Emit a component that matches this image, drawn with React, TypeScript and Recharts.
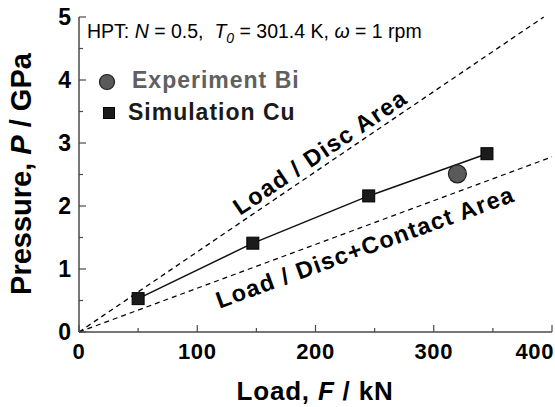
import { Scatter, ScatterChart, XAxis, YAxis } from "recharts";

// Simulation Cu (squares joined by a solid line)
const simLoad = [50, 147, 245, 345];
const simPressure = [0.53, 1.41, 2.16, 2.83];

// Experiment Bi (single circle)
const expLoad = [320];
const expPressure = [2.51];

// Guide lines through the origin
const discLoad = [0, 393];
const discPressure = [0, 5];
const contactLoad = [0, 400];
const contactPressure = [0, 2.78];

const xTicks = [0, 50, 100, 150, 200, 250, 300, 350, 400];
const xMajor = [0, 100, 200, 300, 400];
const yTicks = [0, 0.5, 1, 1.5, 2, 2.5, 3, 3.5, 4, 4.5, 5];
const yMajor = [0, 1, 2, 3, 4, 5];

const W = 555;
const H = 407;
const FONT = "'Liberation Sans', Arial, sans-serif";
const AXIS = "#4a4a4a";

const toPoints = (xs: number[], ys: number[]) => xs.map((x, i) => ({ x, y: ys[i] }));

const simData = toPoints(simLoad, simPressure);
const expData = toPoints(expLoad, expPressure);
const discData = toPoints(discLoad, discPressure);
const contactData = toPoints(contactLoad, contactPressure);

type Side = "left" | "right" | "top" | "bottom";

// tickSize and tickMargin are 0, so x / y arrive sitting on the axis line
function makeTick(side: Side, majors: number[], labels: boolean) {
  return (props: any) => {
    const { x, y, payload } = props;
    const v = payload.value as number;
    const major = majors.includes(v);
    const len = major ? 7 : 4;
    let line;
    if (side === "left") line = <line x1={x} x2={x + len} y1={y} y2={y} />;
    else if (side === "right") line = <line x1={x} x2={x - len} y1={y} y2={y} />;
    else if (side === "bottom") line = <line x1={x} x2={x} y1={y} y2={y - len} />;
    else line = <line x1={x} x2={x} y1={y} y2={y + len} />;

    // the last x label is pulled in so it stays inside the picture
    const last = side === "bottom" && v === xTicks[xTicks.length - 1];

    return (
      <g stroke={AXIS} strokeWidth={1.2}>
        {line}
        {labels && major && side === "left" && (
          <text x={x - 8} y={y} dy="0.36em" textAnchor="end" stroke="none" fill="#000"
            fontFamily={FONT} fontWeight="bold" fontSize={23}>
            {v}
          </text>
        )}
        {labels && major && side === "bottom" && (
          <text x={last ? x + 2 : x} y={y + 11} dy="0.71em" textAnchor={last ? "end" : "middle"} stroke="none"
            fill="#000" fontFamily={FONT} fontWeight="bold" fontSize={22} letterSpacing={0.6}>
            {v}
          </text>
        )}
      </g>
    );
  };
}

const noMarker = () => <g />;

const square = (p: any) => (
  <rect x={p.cx - 6} y={p.cy - 6} width={12} height={12} fill="#1b1b1b" stroke="#000" strokeWidth={1} />
);

const circle = (p: any) => <circle cx={p.cx} cy={p.cy} r={9} fill="#5a5a5a" stroke="#1e1e1e" strokeWidth={1.2} />;

function Overlay() {
  const bold = { fontFamily: FONT, fontWeight: "bold" as const };
  return (
    <svg width={W} height={H} style={{ position: "absolute", left: 0, top: 0, pointerEvents: "none" }}>
      <text x={87} y={38} fontFamily={FONT} fontSize={19.5} fill="#000">
        HPT: <tspan fontStyle="italic">N</tspan> = 0.5,{"\u00a0\u00a0"}
        <tspan fontStyle="italic">T</tspan>
        <tspan fontStyle="italic" fontSize={14} dy={5}>0</tspan>
        <tspan dy={-5}> = 301.4 K, </tspan>
        <tspan fontStyle="italic">ω</tspan> = 1 rpm
      </text>

      <circle cx={107} cy={82} r={7.5} fill="#5a5a5a" stroke="#1e1e1e" strokeWidth={1.2} />
      <text x={132} y={88} {...bold} fontSize={23} letterSpacing={1} fill="#606060">
        Experiment Bi
      </text>
      <rect x={103.5} y={107.5} width={11} height={11} fill="#1b1b1b" stroke="#000" />
      <text x={128} y={120} {...bold} fontSize={23} letterSpacing={1} fill="#1a1a1a">
        Simulation Cu
      </text>

      <text transform="translate(320 152) rotate(-34)" textAnchor="middle" dy="0.35em" {...bold}
        fontSize={23.5} letterSpacing={1.3} fill="#000">
        Load / Disc Area
      </text>
      <text transform="translate(365 247) rotate(-20)" textAnchor="middle" dy="0.35em" {...bold}
        fontSize={23.5} letterSpacing={1.3} fill="#000">
        Load / Disc+Contact Area
      </text>

      <text x={315} y={400} textAnchor="middle" {...bold} fontSize={26} letterSpacing={0.8} fill="#000">
        Load, <tspan fontStyle="italic">F</tspan> / kN
      </text>
      <text transform="translate(31 174) rotate(-90)" textAnchor="middle" {...bold} fontSize={29} fill="#000">
        Pressure, <tspan fontStyle="italic">P</tspan> / GPa
      </text>
    </svg>
  );
}

export default function App() {
  return (
    <div style={{ position: "absolute", left: 0, top: 0, width: W, height: H, background: "#fff" }}>
      <ScatterChart width={W} height={H} margin={{ top: 17, right: 3, bottom: 0, left: 0 }}>
        <XAxis xAxisId="bottom" dataKey="x" type="number" domain={[0, 400]} ticks={xTicks} interval={0}
          height={75} tickSize={0} tickMargin={0} tickLine={false}
          axisLine={{ stroke: AXIS, strokeWidth: 1.5 }} tick={makeTick("bottom", xMajor, true)} />
        <XAxis xAxisId="top" orientation="top" dataKey="x" type="number" domain={[0, 400]} ticks={xTicks}
          interval={0} height={0} tickSize={0} tickMargin={0} tickLine={false}
          axisLine={{ stroke: AXIS, strokeWidth: 1.5 }} tick={makeTick("top", xMajor, false)} />
        <YAxis yAxisId="left" dataKey="y" type="number" domain={[0, 5]} ticks={yTicks} interval={0}
          width={79} tickSize={0} tickMargin={0} tickLine={false}
          axisLine={{ stroke: AXIS, strokeWidth: 1.5 }} tick={makeTick("left", yMajor, true)} />
        <YAxis yAxisId="right" orientation="right" dataKey="y" type="number" domain={[0, 5]} ticks={yTicks}
          interval={0} width={0} tickSize={0} tickMargin={0} tickLine={false}
          axisLine={{ stroke: AXIS, strokeWidth: 1.5 }} tick={makeTick("right", yMajor, false)} />

        <Scatter xAxisId="bottom" yAxisId="left" data={discData} line={{ stroke: "#000", strokeWidth: 1.3, strokeDasharray: "5 4" }}
          shape={noMarker} isAnimationActive={false} />
        <Scatter xAxisId="bottom" yAxisId="left" data={contactData} line={{ stroke: "#000", strokeWidth: 1.3, strokeDasharray: "5 4" }}
          shape={noMarker} isAnimationActive={false} />
        <Scatter xAxisId="bottom" yAxisId="left" data={simData} line={{ stroke: "#111", strokeWidth: 1.5 }}
          shape={square} isAnimationActive={false} />
        <Scatter xAxisId="bottom" yAxisId="left" data={expData} shape={circle} isAnimationActive={false} />
      </ScatterChart>
      <Overlay />
    </div>
  );
}
